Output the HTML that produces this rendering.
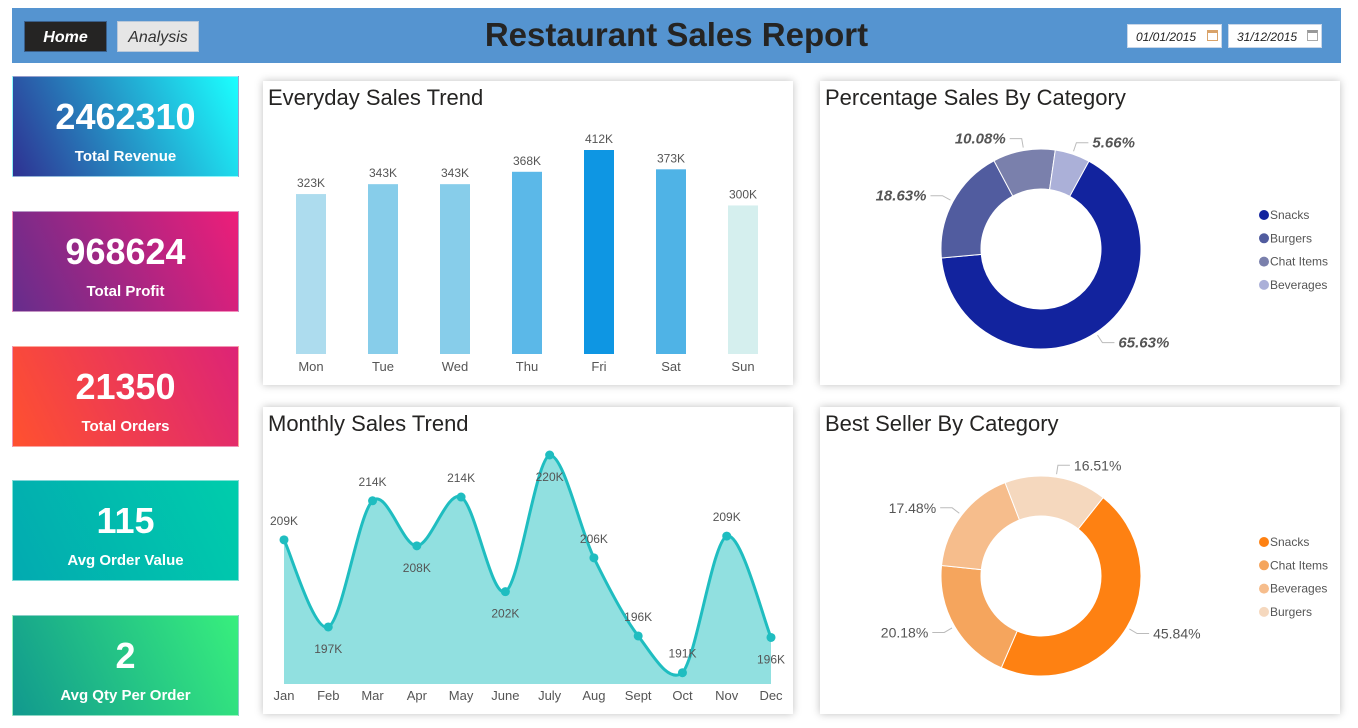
<!DOCTYPE html>
<html><head><meta charset="utf-8">
<style>
body{margin:0;width:1358px;height:728px;background:#fff;font-family:"Liberation Sans","DejaVu Sans",sans-serif;position:relative;overflow:hidden}
.abs{position:absolute}
.hdr{left:12px;top:8px;width:1329px;height:55px;background:#5594D0}
.btn{top:13px;height:31px;font-size:16px;font-style:italic;text-align:center;line-height:31px;box-sizing:border-box}
.title{left:0;width:1329px;top:8px;text-align:center;font-size:33px;font-weight:bold;color:#252423}
.date{top:16px;height:24px;background:#fff;border:1px solid #c8d6e8;font-size:12px;font-style:italic;line-height:24px;padding-left:8px;box-sizing:border-box;color:#222}
.cal{position:absolute;right:3px;top:5px;width:11px;height:11px;border:1px solid #aaa;border-top:3px solid #999;box-sizing:border-box}
.card{left:12px;width:227px;height:101px;color:#fff;text-align:center;box-sizing:border-box;border:1px solid rgba(255,255,255,.5)}
.card .v{font-size:36px;font-weight:bold;margin-top:20px;line-height:40px}
.card .l{font-size:15px;font-weight:bold;margin-top:11px}
.panel{background:#fff;box-shadow:0 0 8px rgba(0,0,0,.25)}
.ptitle{position:absolute;left:5px;top:4px;font-size:22px;color:#252423}
</style></head><body>
<div class="abs hdr">
  <div class="abs btn" style="left:12px;width:83px;background:#252423;color:#fff;font-weight:bold;border:1px solid #3a5f8a">Home</div>
  <div class="abs btn" style="left:105px;width:82px;background:#e6e6e6;color:#333;border:1px solid #b8c8da">Analysis</div>
  <div class="abs title">Restaurant Sales Report</div>
  <div class="abs date" style="left:1115px;width:95px">01/01/2015<span class="cal" style="border-color:#d9a36a"></span></div>
  <div class="abs date" style="left:1216px;width:94px">31/12/2015<span class="cal"></span></div>
</div>

<div class="abs card" style="top:76px;background:linear-gradient(65deg,#2E3192,#1BFFFF)"><div class="v">2462310</div><div class="l">Total Revenue</div></div>
<div class="abs card" style="top:211px;background:linear-gradient(65deg,#662D8C,#ED1E79)"><div class="v">968624</div><div class="l">Total Profit</div></div>
<div class="abs card" style="top:346px;background:linear-gradient(65deg,#FF512F,#DD2476)"><div class="v">21350</div><div class="l">Total Orders</div></div>
<div class="abs card" style="top:480px;background:linear-gradient(65deg,#02AAB0,#00CDAC)"><div class="v">115</div><div class="l">Avg Order Value</div></div>
<div class="abs card" style="top:615px;background:linear-gradient(65deg,#11998E,#38EF7D)"><div class="v">2</div><div class="l">Avg Qty Per Order</div></div>

<div class="abs panel" style="left:263px;top:81px;width:530px;height:304px"><div class="ptitle">Everyday Sales Trend</div></div>
<div class="abs panel" style="left:820px;top:81px;width:520px;height:304px"><div class="ptitle">Percentage Sales By Category</div></div>
<div class="abs panel" style="left:263px;top:407px;width:530px;height:307px"><div class="ptitle">Monthly Sales Trend</div></div>
<div class="abs panel" style="left:820px;top:407px;width:520px;height:307px"><div class="ptitle">Best Seller By Category</div></div>

<svg class="abs" style="left:0;top:0" width="1358" height="728" id="svg" font-family="Liberation Sans, DejaVu Sans, sans-serif"></svg>

<script>
const days=["Mon","Tue","Wed","Thu","Fri","Sat","Sun"];
const dayValues=[323,343,343,368,412,373,300];
const dayColors=["#ADDCEE","#87CDEA","#87CDEA","#5BB8E8","#0E96E3","#4FB3E6","#D5EFEE"];
const months=["Jan","Feb","Mar","Apr","May","June","July","Aug","Sept","Oct","Nov","Dec"];
const monthValues=[208.7,197.1,213.9,207.9,214.4,201.8,220.0,206.3,195.9,191.0,209.2,195.7];
const monthLabelBelow=[false,true,false,true,false,true,true,false,false,false,false,true];
const cat1=["Snacks","Burgers","Chat Items","Beverages"];
const pct1=[65.63,18.63,10.08,5.66];
const col1=["#12239E","#515C9F","#7A80AC","#ABB0D8"];
const cat2=["Snacks","Chat Items","Beverages","Burgers"];
const pct2=[45.84,20.18,17.48,16.51];
const col2=["#FE8112","#F5A55D","#F6BD8C","#F5D8BE"];

const svg=document.getElementById('svg');
const NS="http://www.w3.org/2000/svg";
function mk(tag,attrs,parent){const e=document.createElementNS(NS,tag);for(const k in attrs)e.setAttribute(k,attrs[k]);(parent||svg).appendChild(e);return e;}

// bar chart
const barBase=354,barScale=204/412;
const bx=i=>311+i*72;
const by=v=>barBase-v*barScale;
days.forEach((d,i)=>{
  const r=mk('rect',{x:bx(i)-15,y:by(dayValues[i]),width:30,height:barBase-by(dayValues[i]),fill:dayColors[i]});
  
  
  const t=mk('text',{x:bx(i),y:by(dayValues[i])-7,'text-anchor':'middle','font-size':12,fill:'#555'});t.textContent=dayValues[i]+'K';
  
  
  const a=mk('text',{x:bx(i),y:371,'text-anchor':'middle','font-size':13,fill:'#555'});a.textContent=d;
  
  
});

// monthly area
const mBase=684,mMin=189.5,mMax=220;
const mx=i=>284+i*(771-284)/11;
const my=v=>mBase-(v-mMin)/(mMax-mMin)*(mBase-455);
const pts=monthValues.map((v,i)=>[mx(i),my(v)]);
let d="M"+pts[0][0]+","+pts[0][1];
for(let i=0;i<pts.length-1;i++){
  const p0=pts[Math.max(0,i-1)],p1=pts[i],p2=pts[i+1],p3=pts[Math.min(pts.length-1,i+2)];
  const t=0.16;
  const lo=Math.min(p1[1],p2[1]),hi=Math.max(p1[1],p2[1]);
  const c1=[p1[0]+(p2[0]-p0[0])*t,Math.max(my(mMax),Math.min(mBase,p1[1]+(p2[1]-p0[1])*t))];
  const c2=[p2[0]-(p3[0]-p1[0])*t,Math.max(my(mMax),Math.min(mBase,p2[1]-(p3[1]-p1[1])*t))];
  d+=` C${c1[0]},${c1[1]} ${c2[0]},${c2[1]} ${p2[0]},${p2[1]}`;
}
const area=mk('path',{d:d+` L${mx(11)},${mBase} L${mx(0)},${mBase} Z`,fill:'#91E0E0'});


const line=mk('path',{d:d,fill:'none',stroke:'#1FBDC0','stroke-width':3});


months.forEach((m,i)=>{
  const c=mk('circle',{cx:mx(i),cy:my(monthValues[i]),r:4.5,fill:'#1FBDC0'});
  
  
  const t=mk('text',{x:mx(i),y:monthLabelBelow[i]?my(monthValues[i])+26:my(monthValues[i])-15,'text-anchor':'middle','font-size':12,fill:'#555'});
  t.textContent=Math.round(monthValues[i])+'K';
  
  
  const a=mk('text',{x:mx(i),y:700,'text-anchor':'middle','font-size':13,fill:'#555'});a.textContent=m;
  
  
});

// donuts
function donut(cx,cy,cats,pcts,cols,startDeg,bold,legendY,prefix){
  const R=100,r=60;let a=startDeg;
  const total=pcts.reduce((s,v)=>s+v,0);
  cats.forEach((c,i)=>{
    const sweep=pcts[i]/total*360;
    const a0=(a-90)*Math.PI/180,a1=(a+sweep-90)*Math.PI/180;
    const large=sweep>180?1:0;
    const P=(rad,ang)=>[cx+rad*Math.cos(ang),cy+rad*Math.sin(ang)];
    const o0=P(R,a0),o1=P(R,a1),i1=P(r,a1),i0=P(r,a0);
    const s=mk('path',{d:`M${o0} A${R},${R} 0 ${large} 1 ${o1} L${i1} A${r},${r} 0 ${large} 0 ${i0} Z`,fill:cols[i],stroke:'#fff','stroke-width':1});
    
    
    const mid=(a+sweep/2-90)*Math.PI/180;
    const e1=P(R+3,mid),e2=P(R+12,mid);
    const right=Math.cos(mid)>=0;
    const e3=[e2[0]+(right?12:-12),e2[1]];
    mk('polyline',{points:`${e1} ${e2} ${e3}`,fill:'none',stroke:'#bbb','stroke-width':1});
    const t=mk('text',{x:e3[0]+(right?4:-4),y:e3[1]+5,'text-anchor':right?'start':'end','font-size':bold?15:14,fill:'#555','font-weight':bold?'bold':'normal','font-style':bold?'italic':'normal'});
    t.textContent=pcts[i].toFixed(2)+'%';
    
    
    a+=sweep;
    const ly=legendY+i*23.3;
    const lc=mk('circle',{cx:1264,cy:ly,r:5,fill:cols[i]});
    
    
    const lt=mk('text',{x:1270,y:ly+4,'font-size':12,fill:'#555'});lt.textContent=c;
    
    
  });
}
donut(1041,249,cat1,pct1,col1,28.6,true,215,'pct');
donut(1041,576,cat2,pct2,col2,38.4,false,542,'best');
</script>
</body></html>
